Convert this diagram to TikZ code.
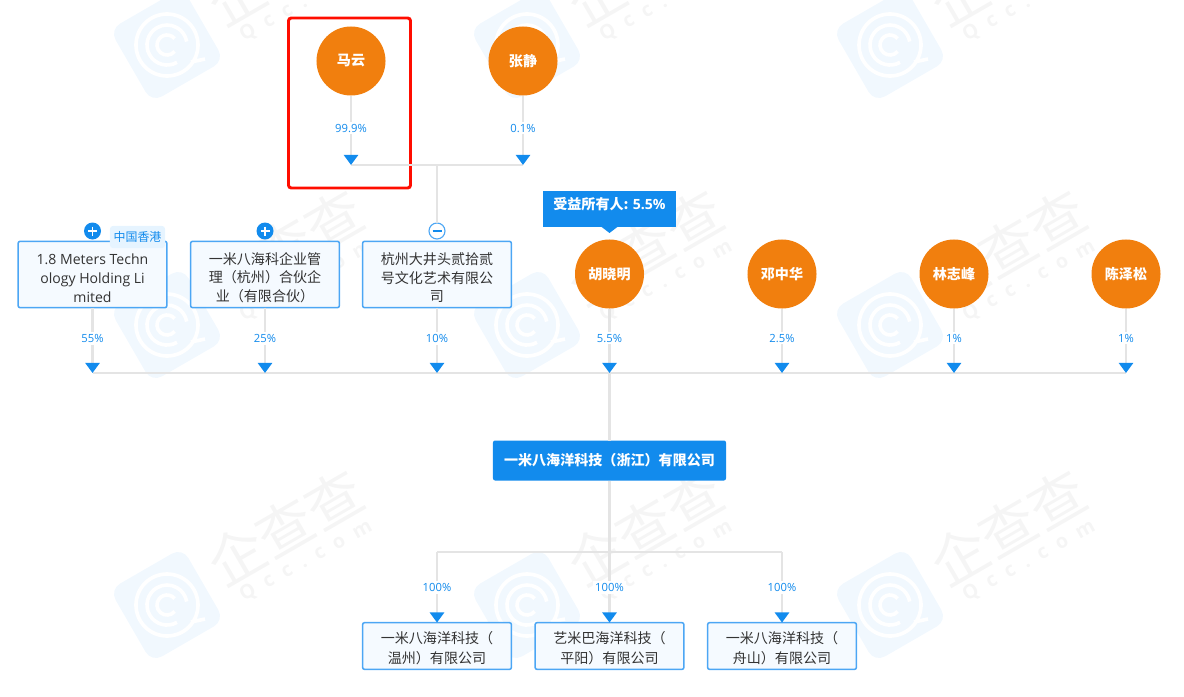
\documentclass[tikz,border=0pt]{standalone}
\usepackage{fontspec}
\setmainfont{Noto Sans CJK SC}
\newfontfamily\latinfont{Open Sans}
\usetikzlibrary{arrows.meta}
\definecolor{qblue}{HTML}{128BED}
\definecolor{qorange}{HTML}{F17F0E}
\definecolor{qline}{HTML}{E4E4E4}
\definecolor{qedge}{HTML}{4CA6F4}
\definecolor{qpale}{HTML}{F5FAFF}
\definecolor{qtext}{HTML}{333333}
\definecolor{qbadge}{HTML}{E6F4FF}
\definecolor{qlogo}{HTML}{F1F8FE}
\definecolor{qmark}{HTML}{F5F5F5}
\newcommand{\upa}{\rule{0pt}{13pt}}
\newcommand{\upb}{\rule{0pt}{11pt}}
\newcommand{\gapped}{\hspace{.55em}}
\tikzset{
  person/.style={circle,fill=qorange,text=white,minimum size=1.725cm,inner sep=0pt,outer sep=0pt,font=\fontsize{10}{12}\selectfont\bfseries},
  company/.style={draw=qedge,fill=qpale,line width=1.1pt,rounded corners=1.5pt,text=qtext,minimum width=3.72cm,minimum height=1.66cm,inner sep=0pt,outer sep=0pt,align=center,font=\fontsize{10}{13.4}\selectfont},
  subcompany/.style={company,minimum height=1.17cm,font=\fontsize{10}{14.2}\selectfont},
  mainbox/.style={fill=qblue,rounded corners=1.5pt,text=white,minimum width=5.825cm,minimum height=1cm,inner sep=0pt,outer sep=0pt,font=\fontsize{10}{12}\selectfont\bfseries},
  tagbox/.style={fill=qblue,minimum width=3.325cm,minimum height=.9cm,inner sep=0pt,outer sep=0pt},
  tagtext/.style={text=white,inner sep=0pt,font=\fontsize{10}{12}\selectfont\bfseries},
  region/.style={fill=qbadge,rounded corners=2pt,text=qblue,inner sep=0pt,minimum width=1.375cm,minimum height=.55cm,font=\fontsize{8.5}{10}\selectfont},
  plusbtn/.style={circle,fill=qblue,minimum size=.425cm,inner sep=0pt,outer sep=0pt,path picture={\draw[white,line width=.9pt] (path picture bounding box.center)+(-4.5,0) -- +(4.5,0) (path picture bounding box.center)+(0,-4.5) -- +(0,4.5);}},
  minusbtn/.style={circle,draw=qedge,fill=white,line width=.8pt,minimum size=.4cm,inner sep=0pt,outer sep=0pt,path picture={\draw[qblue,line width=.9pt] (path picture bounding box.center)+(-4.5,0) -- +(4.5,0);}},
  link/.style={draw=qline,line width=2pt},
  share/.style={link,-{Triangle[width=10pt,length=7.2pt,color=qblue]}},
  pct/.style={fill=white,text=qblue,inner sep=1.5pt,font=\latinfont\fontsize{8}{10}\selectfont},
  logo/.style={fill=qlogo,rounded corners=.3cm,rotate=30,minimum size=2.1cm,inner sep=0pt},
  ring/.style={draw=white,line width=2.6pt},
  markcn/.style={text=qmark,rotate=30,inner sep=0pt,font=\fontsize{40}{44}\selectfont},
  markqcc/.style={text=qmark,rotate=29,inner sep=0pt,font=\latinfont\fontsize{14}{16}\selectfont\bfseries}
}
\begin{document}
\begin{tikzpicture}[x=0.025cm,y=-0.025cm]
\useasboundingbox (0,0) rectangle (1184,697);
\foreach \lx in {167,527,890}{\foreach \ly in {45,325,605}{
  \draw (\lx,\ly) node[logo] {};
  \draw[ring] (\lx,\ly) circle (31);
  \draw[ring] (\lx,\ly)++(60:20) arc (60:350:20);
  \draw[ring] (\lx,\ly)++(40:10) arc (40:320:10);
  \draw[ring] (\lx+24,\ly+17) -- (\lx+38,\ly+14);
  \draw (\lx+118,\ly-78) node[markcn] {企查查};
  \draw (\lx+139,\ly-44) node[markqcc] {Q\gapped c\gapped c\gapped .\gapped c\gapped o\gapped m};
}}
\draw[red!90!orange,line width=2.1pt,rounded corners=2pt] (288.5,18) rectangle (410.5,188);
\draw (351,61) node[person] (mayun) {马云};
\draw (523,61) node[person] (zhangjing) {张静};
\draw (92.5,274.5) node[company] (meters) {\upa\latinfont 1.8 Meters Techn\\\latinfont ology Holding Li\\\latinfont mited};
\draw (265,274.5) node[company] (yimiqiye) {\upa 一米八海科企业管\\理（杭州）合伙企\\业（有限合伙）};
\draw (437,274.5) node[company] (dajing) {\upa 杭州大井头贰拾贰\\号文化艺术有限公\\司};
\draw (609.5,274) node[person] (hu) {胡晓明};
\draw (782,274) node[person] (deng) {邓中华};
\draw (954,274) node[person] (lin) {林志峰};
\draw (1126,274) node[person] (chen) {陈泽松};
\draw (609.5,460.5) node[mainbox] (yimi) {一米八海洋科技（浙江）有限公司};
\draw (437,646) node[subcompany] (wenzhou) {\upb 一米八海洋科技（\\温州）有限公司};
\draw (609.5,646) node[subcompany] (pingyang) {\upb 艺米巴海洋科技（\\平阳）有限公司};
\draw (782,646) node[subcompany] (zhoushan) {\upb 一米八海洋科技（\\舟山）有限公司};
\draw (609.5,209) node[tagbox] (benefit) {};
\draw (609.5,204) node[tagtext] (benefittext) {受益所有人: {\latinfont 5.5\%}};
\fill[qblue] (601,226.5) -- (618,226.5) -- (609.5,233) -- cycle;
\draw (137.5,237) node[region] (hk) {中国香港};
\draw (92.5,231) node[plusbtn] (btna) {};
\draw (265,231) node[plusbtn] (btnb) {};
\draw (437,231) node[minusbtn] (btnc) {};
\coordinate (topa) at (351,165);
\coordinate (topb) at (523,165);
\coordinate (topc) at (437,165);
\coordinate (rowa) at (92.5,373);
\coordinate (rowb) at (265,373);
\coordinate (rowc) at (437,373);
\coordinate (rowd) at (609.5,373);
\coordinate (rowe) at (782,373);
\coordinate (rowf) at (954,373);
\coordinate (rowg) at (1126,373);
\coordinate (lowa) at (437,552);
\coordinate (lowb) at (609.5,552);
\coordinate (lowc) at (782,552);
\draw[link] (topa) -- (topb);
\draw[link] (topc) -- (btnc);
\draw[link] (rowa) -- (rowg);
\draw[link] (rowd) -- (yimi);
\draw[link] (yimi) -- (lowb);
\draw[link] (lowa) -- (lowc);
\draw[share] (mayun) -- node[pct,pos=.47] {99.9\%} (topa);
\draw[share] (zhangjing) -- node[pct,pos=.47] {0.1\%} (topb);
\draw[share] (meters) -- node[pct,pos=.47] {55\%} (rowa);
\draw[share] (yimiqiye) -- node[pct,pos=.47] {25\%} (rowb);
\draw[share] (dajing) -- node[pct,pos=.47] {10\%} (rowc);
\draw[share] (hu) -- node[pct,pos=.46] {5.5\%} (rowd);
\draw[share] (deng) -- node[pct,pos=.46] {2.5\%} (rowe);
\draw[share] (lin) -- node[pct,pos=.46] {1\%} (rowf);
\draw[share] (chen) -- node[pct,pos=.46] {1\%} (rowg);
\draw[share] (lowa) -- node[pct,pos=.5] {100\%} (wenzhou);
\draw[share] (lowb) -- node[pct,pos=.5] {100\%} (pingyang);
\draw[share] (lowc) -- node[pct,pos=.5] {100\%} (zhoushan);
\end{tikzpicture}
\end{document}
